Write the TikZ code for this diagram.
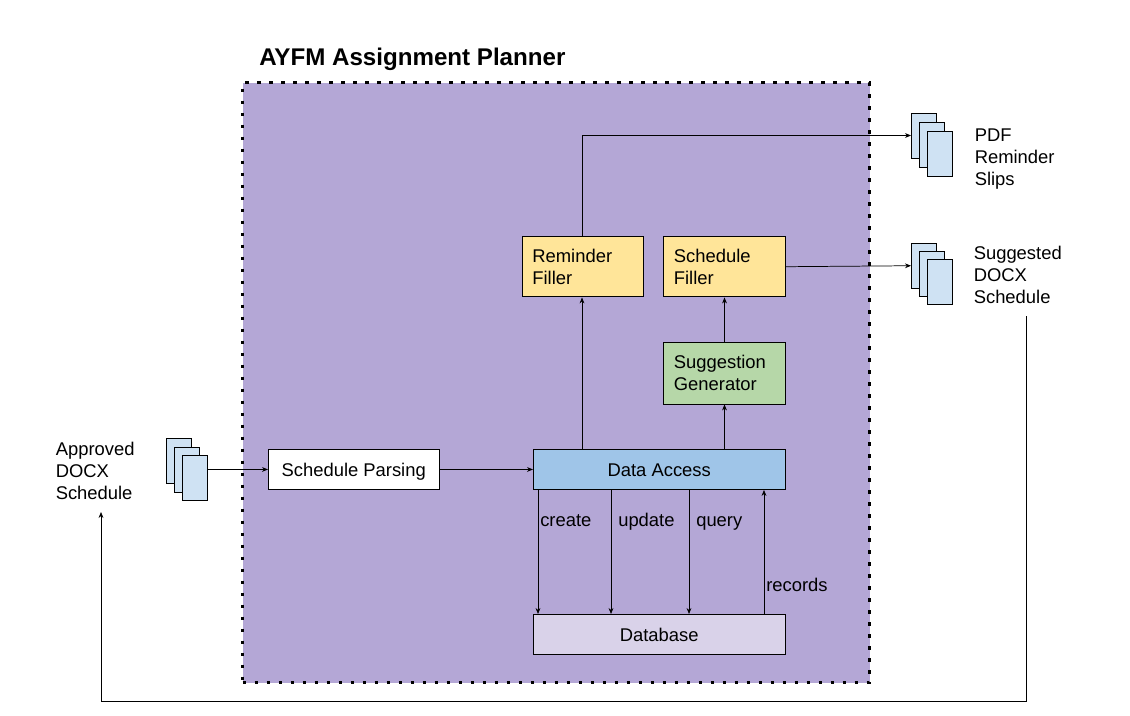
\documentclass[tikz,border=0pt]{standalone}
\usepackage{fontspec}
\setmainfont{Liberation Sans}
\usetikzlibrary{arrows.meta,calc}
\definecolor{panel}{HTML}{B4A7D6}
\definecolor{docblue}{HTML}{CFE2F3}
\definecolor{fillyellow}{HTML}{FFE599}
\definecolor{suggreen}{HTML}{B6D7A8}
\definecolor{accblue}{HTML}{9FC5E8}
\definecolor{dblilac}{HTML}{D9D2E9}
\tikzset{
  txt/.style={font=\fontsize{13.8}{16.5}\selectfont},
  boxbase/.style={draw=black,line width=0.7pt,inner sep=0pt,txt},
  proc/.style={boxbase,anchor=north west},
  oneline/.style={text height=9.9pt,text depth=0pt},
  docpage/.style={draw=black,line width=0.7pt,fill=docblue,inner sep=0pt,anchor=north west,minimum width=18.4pt,minimum height=33.4pt},
  conn/.style={draw=black,line width=0.55pt,-{Stealth[length=4.5pt,width=3.6pt]}},
  lab/.style={txt,inner sep=0pt,anchor=base west},
  side/.style={txt,inner sep=0pt,anchor=north west,align=left,text width=70pt},
}
\newcommand{\procbox}[7]{% name, x1, y1, w, h, fill, text
  \node[proc,fill=#6,minimum width=#4*0.75pt,minimum height=#5*0.75pt] (#1) at (#2,#3) {#7};}
\begin{document}
\begin{tikzpicture}[x=0.75pt,y=-0.75pt]
\useasboundingbox (0,0) rectangle (1130,716);
\fill[white] (0,0) rectangle (1130,716);
\node[inner sep=0pt,minimum width=470.25pt,minimum height=450pt,anchor=north west,fill=panel,draw=black,line width=2.4pt,dash pattern=on 2.4pt off 6.6pt] (panel) at (241,81) {};
\node[inner sep=0pt,anchor=west,font=\bfseries\fontsize{18.1}{22}\selectfont] (title) at (259,59) {AYFM Assignment Planner};

\procbox{rem}{522}{236}{120.5}{60.5}{fillyellow}{\parbox{75.5pt}{Reminder\\Filler}}
\procbox{sch}{663}{236}{121.5}{60.5}{fillyellow}{\parbox{75.5pt}{Schedule\\Filler}}
\procbox{sug}{663}{342}{121.5}{61.5}{suggreen}{\parbox{75.5pt}{Suggestion\\Generator}}
\node[proc,oneline,fill=accblue,minimum width=251.5*0.75pt,minimum height=40*0.75pt] (acc) at (533,449) {Data Access};
\node[proc,oneline,fill=dblilac,minimum width=251.5*0.75pt,minimum height=40*0.75pt] (dbs) at (533,614) {Database};
\node[proc,oneline,fill=white,minimum width=170.5*0.75pt,minimum height=40*0.75pt] (par) at (268,449) {Schedule Parsing};

\node[docpage] (a1) at (911,113) {};
\node[docpage] (a2) at (919,122) {};
\node[docpage] (a3) at (927,131) {};
\node[docpage] (b1) at (911,243) {};
\node[docpage] (b2) at (919,251) {};
\node[docpage] (b3) at (927,259) {};
\node[docpage] (c1) at (166,438) {};
\node[docpage] (c2) at (174,447) {};
\node[docpage] (c3) at (182,455) {};

\node[side] (pdf) at (974.5,129) {PDF\\Reminder\\Slips};
\node[side] (sgd) at (973.5,246) {Suggested\\DOCX\\Schedule};
\node[side] (apr) at (55.5,442) {Approved\\DOCX\\Schedule};

\coordinate (xcreate) at (538,0);
\coordinate (xupdate) at (611,0);
\coordinate (xquery) at (689,0);
\coordinate (xrec) at (764,0);
\coordinate (xrem) at (582,0);
\coordinate (xsch) at (724.5,0);
\coordinate (ytop) at (0,135.5);
\coordinate (ybot) at (0,701.5);
\coordinate (xout) at (1026,0);
\coordinate (xback) at (101,0);
\coordinate (sgdend) at (1026,316);
\coordinate (aprend) at (101,512);

\draw[conn] (par.west -| c3.east) -- (par.west);
\draw[conn] (par.east) -- (acc.west);
\draw[conn] (acc.north -| xrem) -- (rem.south -| xrem);
\draw[conn] (acc.north -| xsch) -- (sug.south -| xsch);
\draw[conn] (sug.north -| xsch) -- (sch.south -| xsch);
\draw[conn] (rem.north -| xrem) -- (xrem |- ytop) -- (a1.west |- ytop);
\draw[conn] (sch.east) -- (b1.west);
\draw[conn] (acc.south -| xcreate) -- (dbs.north -| xcreate);
\draw[conn] (acc.south -| xupdate) -- (dbs.north -| xupdate);
\draw[conn] (acc.south -| xquery) -- (dbs.north -| xquery);
\draw[conn] (dbs.north -| xrec) -- (acc.south -| xrec);
\draw[conn] (sgdend) -- (xout |- ybot) -- (xback |- ybot) -- (aprend);

\node[lab] (lcreate) at (540,526) {create};
\node[lab] (lupdate) at (618,526) {update};
\node[lab] (lquery) at (696,526) {query};
\node[lab] (lrecords) at (766,591.7) {records};
\end{tikzpicture}
\end{document}
